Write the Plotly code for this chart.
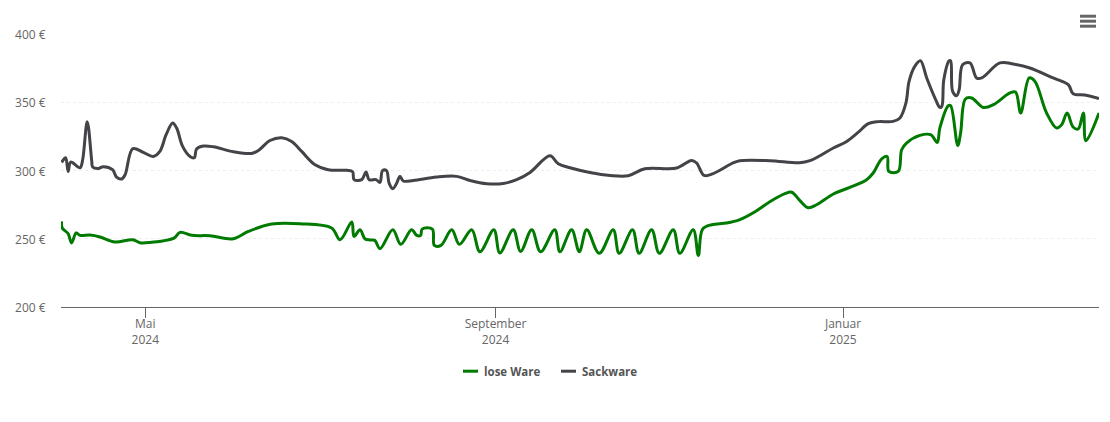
import pandas as pd
import plotly.graph_objects as go

start = pd.Timestamp("2024-04-01")

# days since start / price in euro
lose_days = [0.6, 0.8, 2.9, 4.1, 5.7, 7.1, 10.6, 14.1, 19.3, 25.6, 28.1, 31.6, 40.1, 42.2, 46.3, 52.7, 60.9, 66.2, 74.4, 84.3,
             95.4, 98.4, 102.5, 103.3, 105.4, 107.1, 108.9, 110.6, 112.4, 116.9, 119.7, 123.5, 125.3, 126.7, 127.2, 130.8, 131.5, 133.8, 137.6, 140.3,
             144.6, 147.5, 152.4, 154.5, 159.2, 161.8, 165.7, 168.8, 173.8, 175.6, 179.7, 182.4, 185, 189.4, 194.3, 196.4, 201.1, 203.4, 207.8, 210.5,
             215.4, 217.7, 222.4, 224.2, 225.7, 228.9, 234.1, 238.8, 244.1, 249.3, 254.6, 257, 259.8, 262.8, 265.7, 271.6, 277.4, 283.3, 285.6, 288.6,
             290.5, 291.1, 294.4, 295.6, 297.3, 302, 305.8, 308.1, 309, 312, 312.8, 315.3, 316.3, 318, 320.2, 324.3, 327.8, 333.6, 335.6, 337.4,
             340.4, 342.4, 346.5, 350, 351.8, 353.7, 355.8, 357.6, 359.4, 360.3, 364.9]
lose_values = [262.7, 257.9, 253.7, 246.9, 254.2, 252.5, 252.7, 251.3, 247.6, 249.3, 247.1, 247.3, 250.5, 254.7, 252.5, 252.2, 250, 255.4, 260.8, 261,
               257.9, 249.3, 262.3, 251.7, 256.6, 250, 249.1, 248.8, 242.7, 256.6, 245.9, 256.6, 252.5, 252.5, 257.1, 257.1, 245.1, 245.1, 256.6, 245.9,
               256.6, 240.5, 256.6, 239.6, 256.6, 240.7, 256.6, 240.5, 256.6, 240.5, 256.6, 240.5, 256.6, 239.3, 256.6, 239.3, 256.6, 239.3, 256.6, 239.3,
               256.6, 239.3, 256.6, 237.6, 257.1, 260.3, 261.5, 264, 269.8, 277.1, 283, 284.1, 278.1, 272.7, 274.9, 282.8, 287.6, 293.3, 298.2, 308.6,
               310.3, 299.3, 299.3, 315.2, 320.1, 325.7, 326.2, 320.6, 331.1, 347.5, 347.5, 318.4, 327.5, 352.4, 353.1, 346.2, 348.2, 356.8, 357.5, 342.1,
               367.8, 365.3, 342.1, 331.1, 333.6, 342.1, 331.9, 330.4, 342.1, 321.8, 342.1]

sack_days = [0.6, 2, 2.9, 3.8, 7.1, 8, 9.6, 11.2, 11.5, 13.5, 15.2, 18.5, 19.9, 21.7, 22.9, 25.6, 29.3, 32.8, 35.1, 37.3,
             39.6, 41, 43.1, 45.7, 47.2, 48, 50.4, 53.9, 60.9, 67.3, 69.7, 73.8, 77.9, 81.4, 84.9, 89.6, 94.2, 100.7, 102.8, 103.3,
             106, 107.5, 108.6, 111, 112.4, 113.3, 114.7, 115.6, 116.9, 118.3, 119.4, 120.6, 124.1, 132.3, 139.3, 144, 149.9, 155.7, 160.4, 165.1,
             172.1, 175, 179.1, 186.1, 193.2, 199.6, 205.4, 216.6, 221.8, 223.6, 226.2, 229.4, 236.4, 238.8, 249.3, 259.8, 263.4, 266.9, 271.6, 276.3,
             280.3, 283.9, 287.4, 292.6, 295, 297.1, 298.2, 300.2, 302.2, 304.4, 307.3, 309, 309.7, 310.4, 312.3, 312.8, 313.5, 314.9, 315.8, 317,
             319.6, 321.9, 323.7, 330.1, 334.8, 340.6, 348.8, 354.1, 355.8, 359.9, 364.9]
sack_values = [305.9, 309.4, 299.3, 306.2, 302, 307.9, 335.8, 306.7, 302.6, 301.5, 302.8, 300.6, 295.2, 293.8, 296.9, 316, 313.3, 310.3, 314, 326.2,
               334.8, 331.1, 317.7, 310.3, 309.4, 315.8, 317.9, 317.4, 313.8, 312.5, 314.7, 322, 324, 321.3, 314, 304.2, 300.6, 300.1, 299.1, 293.3,
               293.3, 298.9, 293.3, 293.3, 291.3, 299.9, 299.9, 290.8, 286.7, 290.8, 295.7, 292.3, 292.7, 295.2, 295.7, 292.7, 290.3, 290.5, 293.3, 298.6,
               310.8, 305, 302, 298.6, 296.4, 296.2, 301.3, 301.8, 307.4, 305.5, 296.4, 297.7, 305.5, 307.2, 307.2, 305.7, 307.2, 310.8, 316.5, 321.3,
               327.9, 334.3, 335.8, 336, 338.5, 349.5, 365.3, 376.3, 380.4, 367.8, 353.1, 346.2, 347, 366.5, 380.4, 380.4, 358, 354.8, 359.2, 377.5,
               378.8, 367.8, 367.8, 378.8, 378, 375.1, 367.8, 362.9, 356.3, 355.3, 352.8]

y_ticks = [200, 250, 300, 350, 400]
y_labels = ["200 €", "250 €", "300 €", "350 €", "400 €"]
x_ticks = ["2024-05-01", "2024-09-01", "2025-01-01"]
x_labels = ["Mai<br>2024", "September<br>2024", "Januar<br>2025"]
series_names = ["lose Ware", "Sackware"]
series_colors = ["#007a00", "#434348"]


def to_dates(days):
    return start + pd.to_timedelta(days, unit="D")


def paper_x(px):
    return (px - 61) / 1038


def paper_y(py):
    return (307.3 - py) / 273


fig = go.Figure()
fig.add_trace(go.Scatter(x=to_dates(lose_days), y=lose_values, name=series_names[0], mode="lines",
                         line=dict(color=series_colors[0], width=3, shape="spline", smoothing=1)))
fig.add_trace(go.Scatter(x=to_dates(sack_days), y=sack_values, name=series_names[1], mode="lines",
                         line=dict(color=series_colors[1], width=3, shape="spline", smoothing=1)))

# menu icon top right
shapes = [dict(type="line", xref="paper", yref="paper", x0=paper_x(1080), x1=paper_x(1096),
               y0=paper_y(py), y1=paper_y(py), line=dict(color="#666666", width=3))
          for py in [16.5, 21.5, 26.5]]

# legend by hand, plotly will not draw keys this short
annotations = []
for name, color, x_key, x_text in zip(series_names, series_colors, [463, 561], [483, 581]):
    shapes.append(dict(type="line", xref="paper", yref="paper", x0=paper_x(x_key), x1=paper_x(x_key + 15),
                       y0=paper_y(371.5), y1=paper_y(371.5), line=dict(color=color, width=3)))
    annotations.append(dict(text=name, xref="paper", yref="paper", x=paper_x(x_text), y=paper_y(371.5),
                            xanchor="left", yanchor="middle", showarrow=False, xshift=-1,
                            font=dict(size=11.5, color="#555555", weight="bold")))

fig.update_layout(
    width=1110, height=422,
    margin=dict(l=61, r=11, t=34.3, b=114.7),
    paper_bgcolor="white", plot_bgcolor="white",
    font=dict(family="Open Sans", size=12, color="#666666"),
    shapes=shapes, annotations=annotations, showlegend=False,
)
fig.update_xaxes(type="date", range=[to_dates(0.39), to_dates(364.9)], tickvals=x_ticks, ticktext=x_labels,
                 ticks="outside", ticklen=10, tickcolor="#666666", showline=True, linecolor="#666666",
                 linewidth=1, showgrid=False, zeroline=False, ticklabelstandoff=-4)
fig.update_yaxes(range=[200, 400], tickvals=y_ticks, ticktext=y_labels, showgrid=True, gridcolor="#eeeeee",
                 griddash="dot", gridwidth=1, zeroline=False, showline=False, ticks="outside", ticklen=12,
                 tickcolor="rgba(0,0,0,0)", ticklabelshift=1)

fig.write_html("out.html", config={"displayModeBar": False},
               post_script='document.body.style.margin="0";document.body.style.overflow="hidden";')
